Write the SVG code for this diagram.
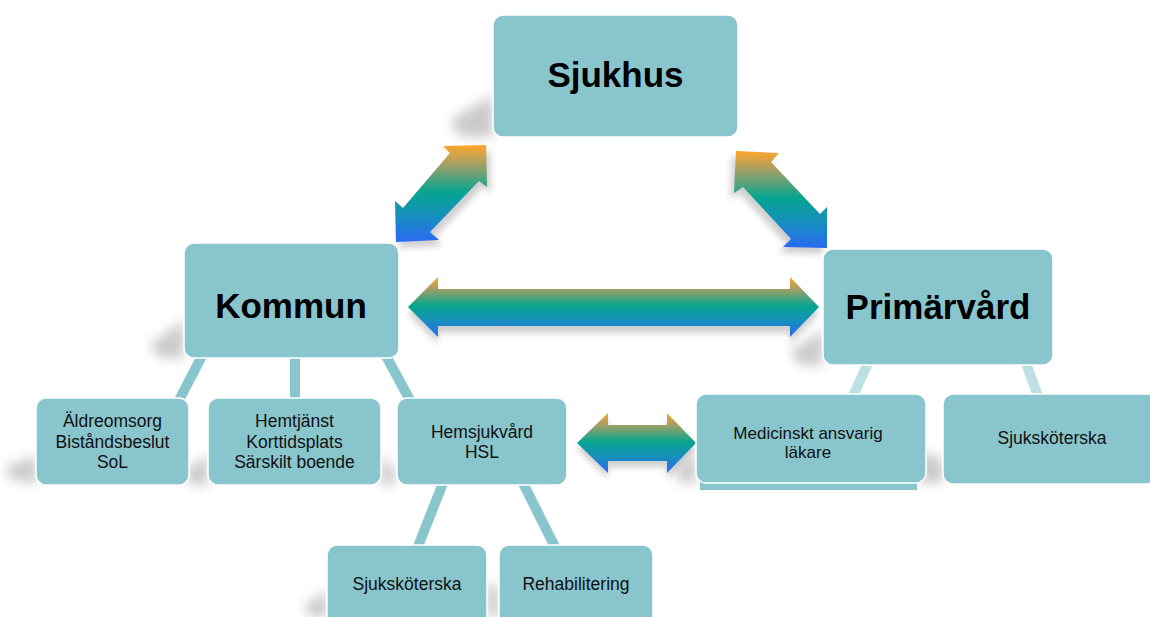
<svg xmlns="http://www.w3.org/2000/svg" width="1150" height="617" viewBox="0 0 1150 617">
<defs>
<linearGradient id="ag" x1="0" y1="0" x2="0" y2="1">
<stop offset="0" stop-color="#ffa62a"/>
<stop offset="0.2" stop-color="#a39f66"/>
<stop offset="0.48" stop-color="#06a58f"/>
<stop offset="0.72" stop-color="#1590bb"/>
<stop offset="1" stop-color="#2b6af4"/>
</linearGradient>
<filter id="blur" x="-40%" y="-40%" width="180%" height="180%"><feGaussianBlur stdDeviation="6"/></filter>
<filter id="blur2" x="-30%" y="-30%" width="160%" height="160%"><feGaussianBlur stdDeviation="3"/></filter>
</defs>
<style>
.box{fill:#89c5cd;stroke:#ffffff;stroke-width:1.5}
.sh{fill:#8a8a8a;opacity:0.45;filter:url(#blur)}
.ash{fill:#777;opacity:0.35;filter:url(#blur2)}
.arr{fill:url(#ag)}
.big{font-family:"Liberation Sans",Arial,sans-serif;font-weight:bold;font-size:35px;fill:#000;text-anchor:middle}
.sm{font-family:"Liberation Sans",Arial,sans-serif;font-size:17.5px;fill:#111;text-anchor:middle}
.cn{stroke:#89c5cd;stroke-width:10;fill:none}
.cl{stroke:#bde0e4;stroke-width:10;fill:none}
</style>

<!-- shadows -->
<g id="shadows">
<polygon class="sh" points="493,95 493,137 460,137 450,120"/>
<polygon class="sh" points="184,320 184,358 160,358 150,345"/>
<polygon class="sh" points="823,330 823,365 800,365 790,352"/>
<polygon class="sh" points="36,455 36,485 10,478 5,468"/>
<polygon class="sh" points="208,455 208,485 190,485 185,470"/>
<polygon class="sh" points="381,455 381,485 395,485 395,470"/>
<polygon class="sh" points="696,450 696,483 680,483 675,470"/>
<polygon class="sh" points="920,450 920,483 943,483 943,460"/>
<polygon class="sh" points="327,590 327,617 310,617 305,605"/>
<polygon class="sh" points="487,580 487,617 499,617 499,590"/>
</g>

<!-- connectors -->
<g id="connectors">
<line class="cn" x1="202" y1="356" x2="178" y2="402"/>
<line class="cn" x1="295" y1="356" x2="295" y2="402"/>
<line class="cn" x1="386" y1="356" x2="411" y2="402"/>
<line class="cn" x1="443" y1="483" x2="417" y2="549"/>
<line class="cn" x1="523" y1="483" x2="556" y2="549"/>
<line class="cl" x1="868" y1="363" x2="853" y2="396"/>
<line class="cl" x1="1026" y1="363" x2="1038" y2="396"/>
</g>

<!-- arrows -->
<g id="arrows">
<g id="arrow-sjukhus-kommun">
<polygon class="ash" transform="translate(4,6)" points="396,242 395,201 403,208 450,153 443,146 486,145 487,187 479,181 430,232 439,240"/>
<polygon class="arr" points="396,242 395,201 403,208 450,153 443,146 486,145 487,187 479,181 430,232 439,240"/>
</g>
<g id="arrow-sjukhus-primarvard">
<polygon class="ash" transform="translate(-4,6)" points="736,151 779,153 771,162 820,214 827,207 827,248 783,247 791,239 743,187 734,193"/>
<polygon class="arr" points="736,151 779,153 771,162 820,214 827,207 827,248 783,247 791,239 743,187 734,193"/>
</g>
<g id="arrow-kommun-primarvard">
<polygon class="ash" transform="translate(0,7)" points="408,307 438,277 438,289 790,289 790,277 819,307 790,337 790,326 438,326 438,337"/>
<polygon class="arr" points="408,307 438,277 438,289 790,289 790,277 819,307 790,337 790,326 438,326 438,337"/>
</g>
<g id="arrow-hsl-lakare">
<polygon class="ash" transform="translate(0,6)" points="577,443 608,413 608,425 667,425 667,413 696,443 667,473 667,461 608,461 608,473"/>
<polygon class="arr" points="577,443 608,413 608,425 667,425 667,413 696,443 667,473 667,461 608,461 608,473"/>
</g>
</g>

<!-- nodes -->
<g id="sjukhus">
<rect class="box" x="493" y="15" width="245" height="122" rx="10"/>
<text class="big" x="615.5" y="87">Sjukhus</text>
</g>
<g id="kommun">
<rect class="box" x="184" y="243" width="215" height="115" rx="10"/>
<text class="big" x="291" y="318">Kommun</text>
</g>
<g id="primarvard">
<rect class="box" x="823" y="249" width="230" height="116" rx="10"/>
<text class="big" x="938" y="319">Primärvård</text>
</g>
<g id="aldreomsorg">
<rect class="box" x="36" y="398" width="153" height="87" rx="10"/>
<text class="sm" x="112.5" y="427">Äldreomsorg</text>
<text class="sm" x="112.5" y="448">Biståndsbeslut</text>
<text class="sm" x="112.5" y="468">SoL</text>
</g>
<g id="hemtjanst">
<rect class="box" x="208" y="398" width="173" height="87" rx="10"/>
<text class="sm" x="294.5" y="427">Hemtjänst</text>
<text class="sm" x="294.5" y="448">Korttidsplats</text>
<text class="sm" x="294.5" y="468">Särskilt boende</text>
</g>
<g id="hemsjukvard">
<rect class="box" x="397" y="398" width="170" height="87" rx="10"/>
<text class="sm" x="482" y="438">Hemsjukvård</text>
<text class="sm" x="482" y="458">HSL</text>
</g>
<g id="lakare">
<rect x="700" y="470" width="217" height="20" fill="#89c5cd"/>
<rect class="box" x="696" y="394" width="230" height="89" rx="10"/>
<text class="sm" x="808" y="439" style="font-size:17px">Medicinskt ansvarig</text>
<text class="sm" x="808" y="458" style="font-size:17px">läkare</text>
</g>
<g id="sjukskoterska-pv">
<rect class="box" x="943" y="394" width="214" height="90" rx="10"/>
<text class="sm" x="1052" y="444">Sjuksköterska</text>
</g>
<g id="sjukskoterska-hsl">
<rect class="box" x="327" y="545" width="160" height="85" rx="10"/>
<text class="sm" x="407" y="590">Sjuksköterska</text>
</g>
<g id="rehabilitering">
<rect class="box" x="499" y="545" width="154" height="85" rx="10"/>
<text class="sm" x="576" y="590">Rehabilitering</text>
</g>
</svg>
